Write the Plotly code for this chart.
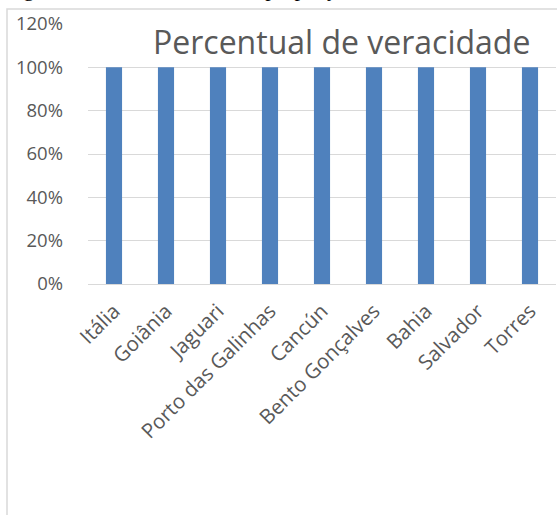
import plotly.graph_objects as go

# Cities and the share of correct answers for each
cidades = ["Itália", "Goiânia", "Jaguari", "Porto das Galinhas", "Cancún",
           "Bento Gonçalves", "Bahia", "Salvador", "Torres"]
veracidade = [1.0, 1.0, 1.0, 1.0, 1.0, 1.0, 1.0, 1.0, 1.0]
ticks_y = [0, 0.2, 0.4, 0.6, 0.8, 1.0, 1.2]
titulo = "Percentual de veracidade"
legenda_doc = "Figura 3 – Gráfico de barras: proporção"

W, H = 557, 515
L, R, T, B = 88, 1, 24, 231
pw, ph = W - L - R, H - T - B

FONT = "Open Sans"
GREY = "#595959"

fig = go.Figure(go.Bar(
    x=cidades, y=veracidade,
    marker=dict(color="#4F81BD", line=dict(width=0)),
    width=0.31,
))

fig.update_layout(
    width=W, height=H, autosize=False,
    margin=dict(l=L, r=R, t=T, b=B, pad=0),
    paper_bgcolor="white", plot_bgcolor="white",
    showlegend=False,
    font=dict(family=FONT, color=GREY, size=18),
)

fig.update_xaxes(
    tickangle=-45, showgrid=False, showline=True, linecolor="#d9d9d9",
    linewidth=1, ticks="", ticklabelstandoff=6,
    tickfont=dict(size=20.5, color=GREY),
)
fig.update_yaxes(
    range=[0, 1.2], tickvals=ticks_y, tickformat=".0%",
    showgrid=True, gridcolor="#d9d9d9", gridwidth=1,
    zeroline=False, showline=False, ticks="",
    ticklabelstandoff=24,
    tickfont=dict(size=18.5, color=GREY),
)

# chart frame (continues past the right and bottom edges)
fx0 = (7 - L) / pw
fy1 = (H - B - 9) / ph
fig.add_shape(type="rect", xref="paper", yref="paper",
              x0=fx0, x1=1.5, y0=-2, y1=fy1,
              line=dict(color="#d9d9d9", width=1.5), fillcolor="rgba(0,0,0,0)",
              layer="below")

# chart title overlapping the top of the plot
fig.add_annotation(text=titulo, xref="paper", yref="paper",
                   x=(341 - L) / pw, y=(H - B - 41) / ph,
                   xanchor="center", yanchor="middle", showarrow=False,
                   font=dict(family=FONT, size=32, color=GREY))

# caption of the surrounding document, running off the top edge
fig.add_annotation(text=legenda_doc, xref="paper", yref="paper",
                   x=(3 - L) / pw, y=(H - B - 3) / ph,
                   xanchor="left", yanchor="bottom", showarrow=False,
                   font=dict(family="Liberation Serif", size=22, color="black"))

fig.write_html("out.html")
